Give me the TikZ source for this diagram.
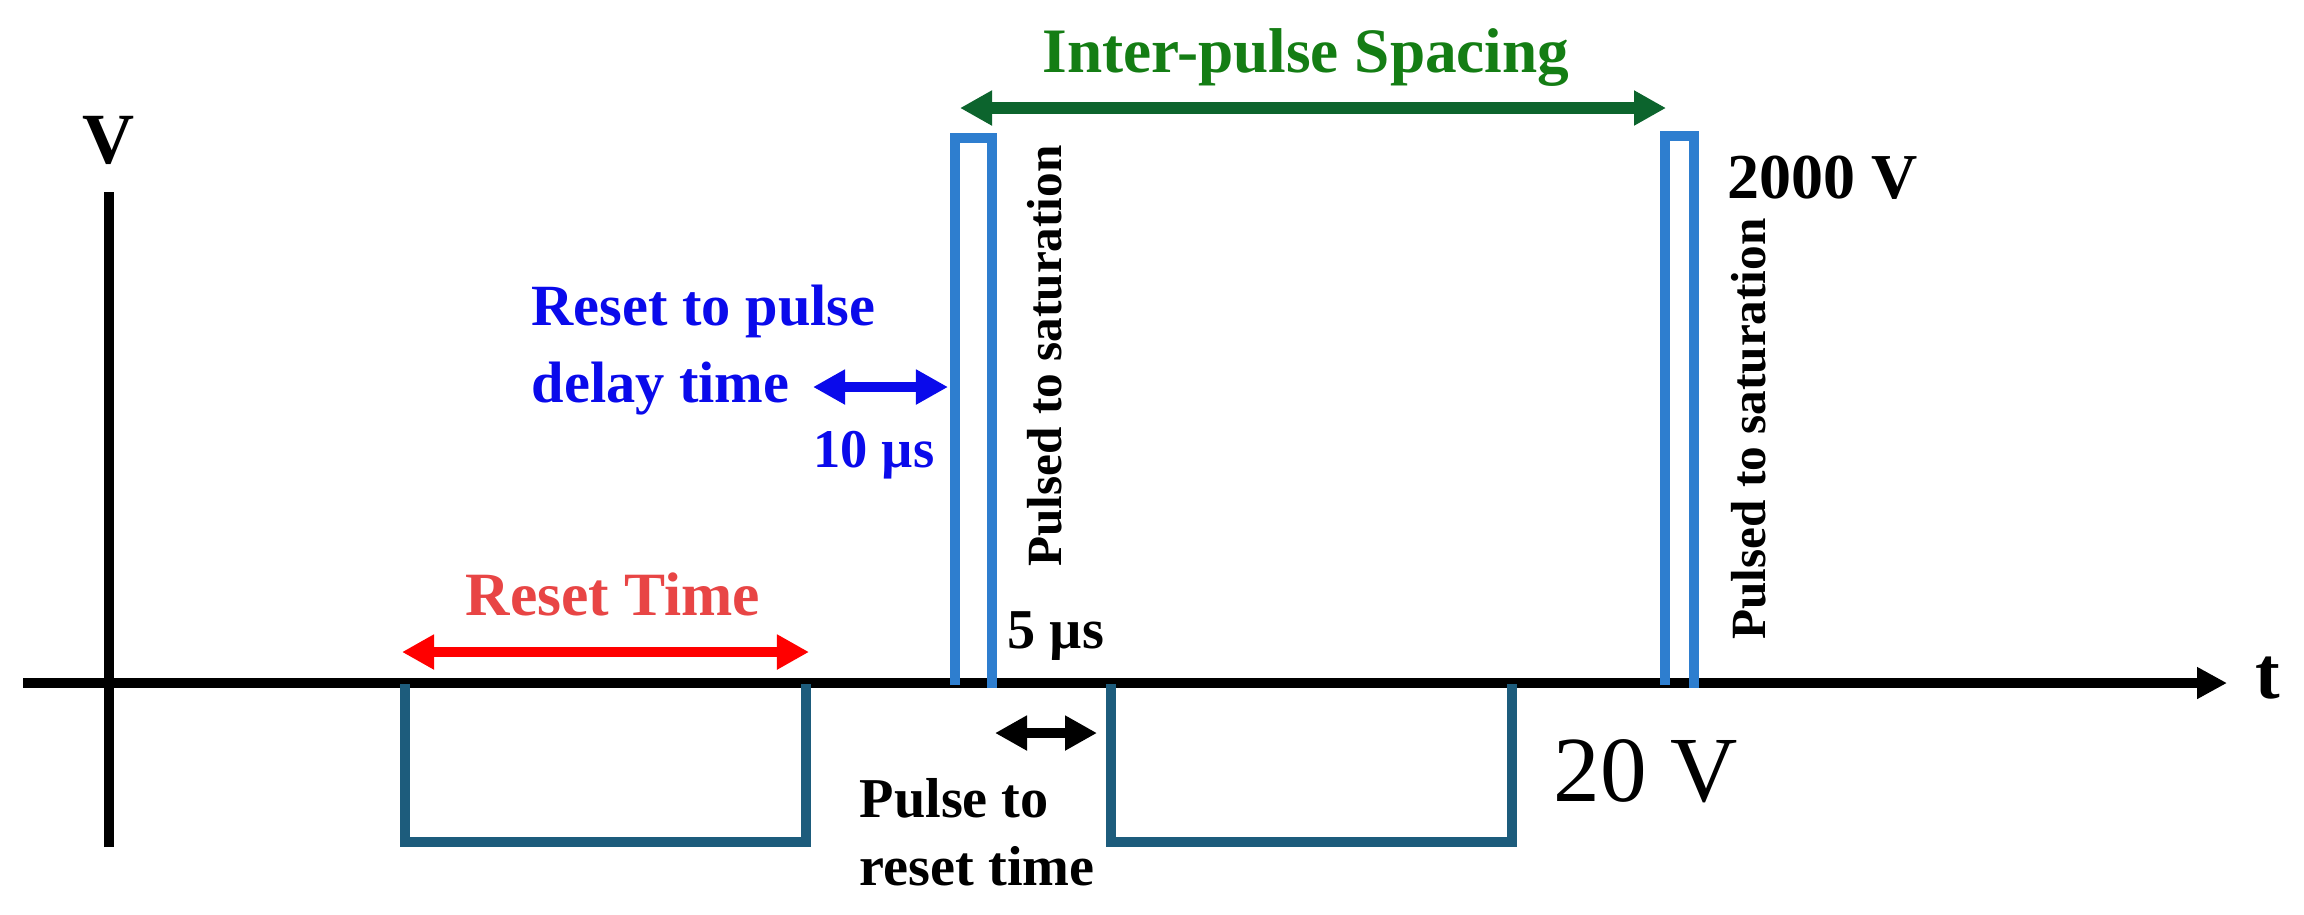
\documentclass[tikz,border=0pt]{standalone}
\usepackage{fontspec}
\setmainfont{Liberation Serif}
\usetikzlibrary{arrows.meta}
\definecolor{pulseblue}{RGB}{46,126,207}
\definecolor{resetteal}{RGB}{29,92,124}
\definecolor{gtext}{RGB}{20,125,20}
\definecolor{garrow}{RGB}{12,100,45}
\definecolor{rtext}{RGB}{232,69,69}
\definecolor{dblue}{RGB}{10,10,235}
\begin{document}
\begin{tikzpicture}[x=0.01cm,y=-0.01cm,
  axisline/.style={line width=3.1pt, black},
  pulseline/.style={line width=2.8pt, pulseblue, line join=miter},
  resetline/.style={line width=2.8pt, resetteal},
  dimarrow/.style={line width=2.8pt, {Triangle[length=0.32cm,width=0.33cm]}-{Triangle[length=0.32cm,width=0.33cm]}},
  lbl/.style={inner sep=0pt, font=\bfseries},
]
\fill[white] (0,0) rectangle (2304,914);
\useasboundingbox (0,0) rectangle (2304,914);
% axes
\coordinate (xstart) at (23,683);
\coordinate (xend) at (2227,683);
\coordinate (ytop) at (109,192);
\coordinate (ybot) at (109,847);
\draw[axisline, -{Triangle[length=0.30cm,width=0.30cm]}] (xstart) -- (xend);
\draw[axisline] (ybot) -- (ytop);
\node[lbl, anchor=base, font=\bfseries\fontsize{20.5}{25}\selectfont] (vlabel) at (109,163) {V};
\node[lbl, anchor=base west, font=\bfseries\fontsize{21}{25}\selectfont] (tlabel) at (2255,698) {t};
% reset pulses
\draw[resetline] (405,684) -- (405,842) -- (806,842) -- (806,684);
\draw[resetline] (1111,684) -- (1111,842) -- (1512,842) -- (1512,684);
% saturation pulses
\draw[pulseline] (955,685) -- (955,138) -- (992,138) -- (992,688);
\draw[pulseline] (1665,685) -- (1665,136) -- (1694,136) -- (1694,688);
% inter-pulse spacing
\coordinate (g1) at (960,108);
\coordinate (g2) at (1666,108);
\draw[dimarrow, garrow, line width=3.3pt] (g1) -- (g2);
\node[lbl, anchor=base, text=gtext, font=\bfseries\fontsize{18}{22}\selectfont] (ips) at (1306,72) {Inter-pulse Spacing};
% reset time
\coordinate (r1) at (402,652);
\coordinate (r2) at (809,652);
\draw[dimarrow, red] (r1) -- (r2);
\node[lbl, anchor=base, text=rtext, font=\bfseries\fontsize{17.5}{21}\selectfont] (rt) at (613,615) {Reset Time};
% reset to pulse delay
\coordinate (b1) at (813,387);
\coordinate (b2) at (948,387);
\draw[dimarrow, dblue, line width=2.6pt] (b1) -- (b2);
\node[lbl, anchor=base west, text=dblue, font=\bfseries\fontsize{16.6}{20}\selectfont] (rpd1) at (531,325) {Reset to pulse};
\node[lbl, anchor=base west, text=dblue, font=\bfseries\fontsize{16.6}{20}\selectfont] (rpd2) at (531,402) {delay time};
\node[lbl, anchor=base west, text=dblue, font=\bfseries\fontsize{15.5}{19}\selectfont] (tenus) at (813,467) {10 µs};
% pulsed to saturation labels
\node[lbl, rotate=90, font=\bfseries\fontsize{14}{17}\selectfont] (ps1) at (1045,356) {Pulsed to saturation};
\node[lbl, rotate=90, font=\bfseries\fontsize{14}{17}\selectfont] (ps2) at (1749,429) {Pulsed to saturation};
\node[lbl, anchor=base west, font=\bfseries\fontsize{18.2}{22}\selectfont] (kv) at (1727,198) {2000 V};
% pulse to reset
\node[lbl, anchor=base west, font=\bfseries\fontsize{16}{19}\selectfont] (fiveus) at (1007,648) {5 µs};
\coordinate (k1) at (995,733);
\coordinate (k2) at (1097,733);
\draw[dimarrow, black] (k1) -- (k2);
\node[lbl, anchor=base west, font=\bfseries\fontsize{16}{19}\selectfont] (ptr1) at (859,817) {Pulse to};
\node[lbl, anchor=base west, font=\bfseries\fontsize{16}{19}\selectfont] (ptr2) at (859,885) {reset time};
\node[lbl, anchor=base west, font=\fontsize{26.5}{30}\selectfont] (twentyv) at (1553,801) {20 V};
\end{tikzpicture}
\end{document}
